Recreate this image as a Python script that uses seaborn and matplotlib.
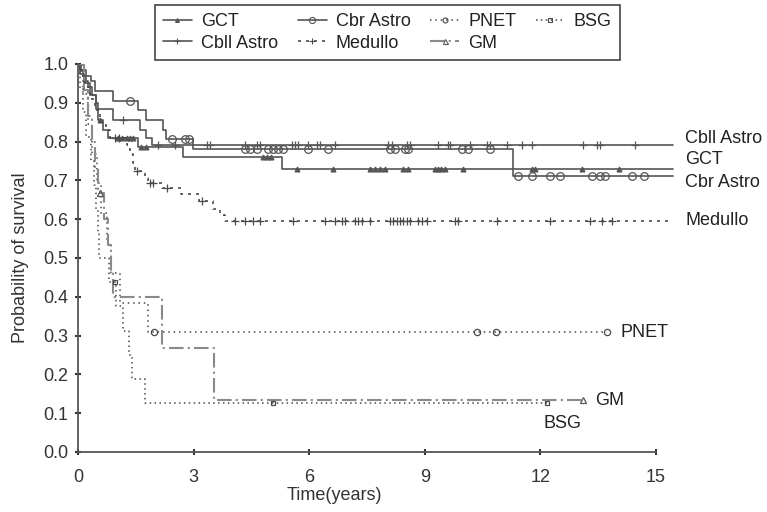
import numpy as np
import pandas as pd
import matplotlib
matplotlib.use("Agg")
import matplotlib.pyplot as plt
from matplotlib.lines import Line2D
import seaborn as sns

# ---- Kaplan-Meier step data (years / survival) ----
gct_t = [0, 0.05, 0.13, 0.21, 0.26, 0.36, 0.47, 0.52, 0.65, 0.78, 1.56, 2.73, 5.30]
gct_s = [1.0, 0.985, 0.97, 0.955, 0.94, 0.92, 0.90, 0.855, 0.83, 0.81, 0.785, 0.76, 0.73]
gct_cens = [0.57, 1.04, 1.14, 1.27, 1.35, 1.43, 1.64, 1.77, 4.81, 4.91, 5.01,
            5.69, 6.62, 7.58, 7.71, 7.84, 7.97, 8.44, 8.57, 9.27, 9.35, 9.43, 9.53,
            10.0, 11.79, 11.87, 13.09, 14.03]

cbll_t = [0, 0.05, 0.16, 0.31, 0.47, 0.91, 1.61, 1.77, 1.92]
cbll_s = [1.0, 0.975, 0.95, 0.92, 0.885, 0.855, 0.83, 0.81, 0.79]
cbll_cens = [1.17, 2.08, 2.52, 3.35, 3.43, 4.34, 4.65, 4.73, 5.56, 5.64, 5.71, 5.97,
             6.21, 6.29, 6.68, 8.05, 8.16, 8.55, 8.62, 9.35, 9.61, 9.66, 10.18,
             10.62, 10.70, 11.14, 11.53, 11.79, 13.12, 13.48, 13.56, 14.47]

cbr_t = [0, 0.08, 0.21, 0.34, 0.44, 0.91, 1.56, 1.77, 2.21, 2.29, 2.99, 11.30]
cbr_s = [1.0, 0.985, 0.97, 0.955, 0.93, 0.905, 0.88, 0.855, 0.83, 0.806, 0.78, 0.71]
cbr_cens = [1.35, 2.44, 2.78, 2.88, 4.34, 4.47, 4.65, 4.94, 5.06, 5.19, 5.32, 5.97,
            6.49, 8.10, 8.23, 8.49, 8.57, 9.97, 10.13, 10.70, 11.43, 11.79, 12.26,
            12.52, 13.35, 13.56, 13.69, 14.39, 14.68]

med_t = [0, 0.08, 0.18, 0.31, 0.44, 0.57, 0.73, 0.83, 1.27, 1.35, 1.43, 1.48,
         1.74, 1.82, 2.18, 2.68, 3.14, 3.51, 3.69, 3.82]
med_s = [1.0, 0.97, 0.94, 0.91, 0.88, 0.85, 0.83, 0.81, 0.79, 0.767, 0.745, 0.723,
         0.707, 0.692, 0.68, 0.665, 0.646, 0.625, 0.61, 0.595]
med_cens = [0.96, 1.06, 1.53, 1.87, 1.95, 2.31, 3.22, 4.08, 4.34, 4.55, 4.73, 5.58,
            6.42, 6.68, 6.86, 6.94, 7.19, 7.27, 7.38, 7.58, 8.10, 8.18, 8.29, 8.36,
            8.44, 8.55, 8.62, 8.83, 8.94, 9.06, 9.79, 9.87, 10.88, 12.26, 13.30,
            13.61, 13.87]

pnet_t = [0, 0.13, 0.26, 0.36, 0.49, 0.60, 0.75, 0.86, 1.09, 1.82]
pnet_s = [1.0, 0.923, 0.846, 0.769, 0.692, 0.615, 0.538, 0.462, 0.385, 0.308]
pnet_cens = [1.97, 10.36, 10.86, 13.74]

gm_t = [0, 0.16, 0.26, 0.36, 0.44, 0.52, 0.68, 0.78, 0.86, 0.91, 2.18, 3.53]
gm_s = [1.0, 0.933, 0.867, 0.80, 0.733, 0.667, 0.60, 0.533, 0.467, 0.40, 0.267, 0.133]
gm_cens = [0.57, 13.12]

bsg_t = [0, 0.05, 0.13, 0.21, 0.34, 0.42, 0.47, 0.52, 0.55, 0.81, 0.99, 1.17,
         1.32, 1.40, 1.74]
bsg_s = [1.0, 0.9375, 0.875, 0.8125, 0.75, 0.6875, 0.625, 0.5625, 0.50, 0.4375,
         0.375, 0.3125, 0.25, 0.1875, 0.125]
bsg_cens = [0.96, 5.06, 12.18]

# last follow-up time for each curve
end_times = {"GCT": 15.45, "Cbll Astro": 15.45, "Cbr Astro": 15.45, "Medullo": 15.45,
             "PNET": 13.74, "GM": 13.12, "BSG": 12.18}

# ---- estilos ----
c_solid = "#555555"
c_dot = "#4a4a4a"
c_gm = "#8a8a8a"

curvas = [
    # name, times, surv, censored, line style, marker kwargs, label offset (pt)
    ("GCT", gct_t, gct_s, gct_cens,
     dict(color=c_solid, ls="-", lw=1.2),
     dict(marker="^", ms=3.5, mfc=c_solid, mec=c_solid), (8.6, 6.5)),
    ("Cbll Astro", cbll_t, cbll_s, cbll_cens,
     dict(color=c_solid, ls="-", lw=1.2),
     dict(marker="+", ms=6, mfc=c_solid, mec=c_solid), (8.6, 5)),
    ("Cbr Astro", cbr_t, cbr_s, cbr_cens,
     dict(color=c_solid, ls="-", lw=1.2),
     dict(marker="o", ms=5.5, mfc="none", mec=c_solid), (8.6, -4)),
    ("Medullo", med_t, med_s, med_cens,
     dict(color=c_dot, ls=(0, (1.8, 3)), lw=1.2),
     dict(marker="+", ms=6, mfc=c_dot, mec=c_dot), (8.6, 0.5)),
    ("PNET", pnet_t, pnet_s, pnet_cens,
     dict(color=c_dot, ls=(0, (1, 2.5)), lw=1.1),
     dict(marker="o", ms=4.5, mfc="none", mec=c_dot), (9.4, 0)),
    ("GM", gm_t, gm_s, gm_cens,
     dict(color=c_gm, ls=(0, (7, 2, 1, 2)), lw=1.5),
     dict(marker="^", ms=4.5, mfc="none", mec="#555555"), (8.6, 0)),
    ("BSG", bsg_t, bsg_s, bsg_cens,
     dict(color=c_dot, ls=(0, (1, 2.2)), lw=1.1),
     dict(marker="s", ms=3.5, mfc="none", mec=c_dot), (-3, -14.5)),
]

sns.set_style("ticks")
plt.rcParams["font.family"] = ["Liberation Sans", "DejaVu Sans"]

fig = plt.figure(figsize=(7.67, 5.12), dpi=100)
ax = fig.add_axes([0.1017, 0.1172, 0.7836, 0.758])

for nome, t, s, cens, estilo, mk, off in curvas:
    df = pd.DataFrame({"t": t + [end_times[nome]], "s": s + [s[-1]]})
    sns.lineplot(data=df, x="t", y="s", drawstyle="steps-post", estimator=None,
                 sort=False, ax=ax, legend=False, color=estilo["color"],
                 linestyle=estilo["ls"], linewidth=estilo["lw"])
    idx = np.searchsorted(t, cens, side="right") - 1
    cy = np.array(s)[idx]
    sns.lineplot(x=cens, y=cy, estimator=None, sort=False, ax=ax, legend=False,
                 linestyle="none", marker=mk["marker"], markersize=mk["ms"],
                 markerfacecolor=mk["mfc"], markeredgecolor=mk["mec"],
                 markeredgewidth=0.9, color=estilo["color"])
    ax.annotate(nome, xy=(end_times[nome], s[-1]), xytext=off,
                textcoords="offset points", ha="left", va="center", fontsize=13,
                color="#222222", annotation_clip=False)

ax.set_xlim(0, 15.6)
ax.set_ylim(0, 1.0)
ax.set_xticks([0, 3, 6, 9, 12, 15])
ax.set_yticks(np.arange(0, 1.01, 0.1))
ax.set_yticklabels([f"{v:.1f}" for v in np.arange(0, 1.01, 0.1)])
ax.spines["top"].set_visible(False)
ax.spines["right"].set_visible(False)
ax.spines["bottom"].set_bounds(0, 15)
for sp in ["left", "bottom"]:
    ax.spines[sp].set_color("#555555")
    ax.spines[sp].set_linewidth(1.3)
ax.tick_params(axis="both", direction="inout", length=4, width=1.5,
               color="#333333", labelsize=13, labelcolor="#333333")
ax.tick_params(axis="x", pad=10)
ax.tick_params(axis="y", pad=5)

ax.set_xlabel("Time(years)", fontsize=13, color="#333333")
ax.set_ylabel("Probability of survival", fontsize=13, color="#333333")
ax.xaxis.set_label_coords(0.426, -0.09)
ax.yaxis.set_label_coords(-0.082, 0.5)

ordem = ["GCT", "Cbll Astro", "Cbr Astro", "Medullo", "PNET", "GM", "BSG"]
handles = []
for nome in ordem:
    _, _, _, _, estilo, mk, _ = [c for c in curvas if c[0] == nome][0]
    handles.append(Line2D([], [], color=estilo["color"], linestyle=estilo["ls"],
                          linewidth=estilo["lw"], marker=mk["marker"],
                          markersize=mk["ms"] * 0.8, markerfacecolor=mk["mfc"],
                          markeredgecolor=mk["mec"], markeredgewidth=0.8))
leg = fig.legend(handles, ordem, ncol=4, loc="upper center",
                 bbox_to_anchor=(0.505, 0.99), fontsize=13, frameon=True,
                 fancybox=False, edgecolor="#444444", framealpha=1,
                 handlelength=1.6, handletextpad=0.5, columnspacing=1.1,
                 borderpad=0.45, labelspacing=0.25, borderaxespad=0)
leg.get_frame().set_linewidth(1.2)
for txt in leg.get_texts():
    txt.set_color("#222222")

fig.savefig("out.png", dpi=100)
